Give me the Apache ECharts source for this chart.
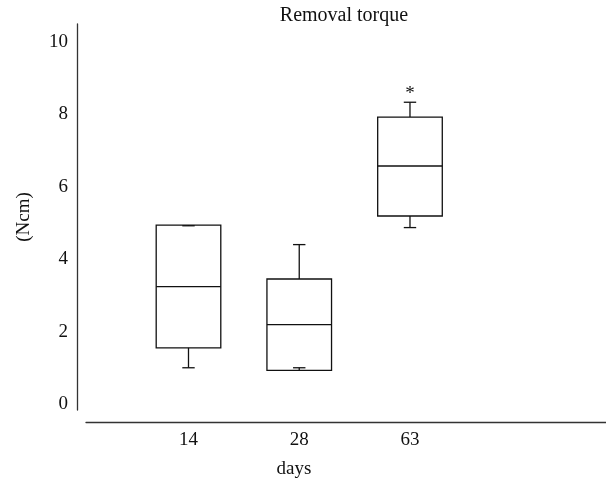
<!DOCTYPE html>
<html><head><meta charset="utf-8">
<script src="https://cdn.jsdelivr.net/npm/echarts@6/dist/echarts.min.js"></script>
<style>html,body{margin:0;padding:0;background:#fff}#c{width:606px;height:483px}</style>
</head><body><div id="c"></div>
<script>
// ---- data ----
const days = ['14', '28', '63'];
const minVals = [1.00, 1.00, 4.87];
const q1Vals = [1.55, 0.93, 5.19];
const medianVals = [3.24, 2.19, 6.57];
const q3Vals = [4.94, 3.45, 7.92];
const maxVals = [4.92, 4.40, 8.33];
const marks = ['', '', '*'];
const yTicks = [0, 2, 4, 6, 8, 10];
const xTicks = [1, 2, 3];

const boxData = days.map((d, i) => [i + 1, minVals[i], q1Vals[i], medianVals[i], q3Vals[i], maxVals[i]]);

const FONT = 'Liberation Serif';
const TXT = '#111';
const chart = echarts.init(document.getElementById('c'), null, {renderer: 'canvas'});
chart.setOption({
  animation: false,
  backgroundColor: '#fff',
  title: [
    {text: 'Removal torque', left: 344, top: 6, padding: 0, textAlign: 'center',
     textStyle: {fontFamily: FONT, fontSize: 20, fontWeight: 'normal', color: TXT}},
    {text: 'days', left: 294, top: 460, padding: 0, textAlign: 'center',
     textStyle: {fontFamily: FONT, fontSize: 19, fontWeight: 'normal', color: TXT}}
  ],
  grid: {left: 86, right: 0, top: 24, bottom: 73},
  xAxis: {
    type: 'value', min: 0.0745, max: 4.77, offset: 12,
    axisLine: {show: true, onZero: false, lineStyle: {color: '#333', width: 1.3}},
    axisTick: {show: false}, splitLine: {show: false},
    axisLabel: {customValues: xTicks, formatter: v => days[Math.round(v) - 1], margin: 9,
                fontFamily: FONT, fontSize: 19, color: TXT}
  },
  yAxis: {
    type: 'value', min: -0.166, max: 10.49, offset: 9,
    name: '(Ncm)', nameLocation: 'middle', nameRotate: 90, nameGap: 43,
    nameTextStyle: {fontFamily: FONT, fontSize: 19, color: TXT},
    axisLine: {show: true, onZero: false, lineStyle: {color: '#333', width: 1.3}},
    axisTick: {show: false}, splitLine: {show: false},
    axisLabel: {customValues: yTicks, margin: 9, fontFamily: FONT, fontSize: 19, color: TXT}
  },
  series: [{
    type: 'custom',
    data: boxData,
    clip: false,
    renderItem: function (params, api) {
      const x = api.value(0);
      const lo = api.coord([x, api.value(1)]);
      const q1 = api.coord([x, api.value(2)]);
      const md = api.coord([x, api.value(3)]);
      const q3 = api.coord([x, api.value(4)]);
      const hi = api.coord([x, api.value(5)]);
      const bw = 64.6, hw = bw / 2, cw = 6.2;
      const cx = q1[0];
      const ls = {stroke: '#111', lineWidth: 1.3};
      const children = [
        {type: 'rect', shape: {x: cx - hw, y: q3[1], width: bw, height: q1[1] - q3[1]},
         style: {fill: '#fff', stroke: '#111', lineWidth: 1.3}},
        {type: 'line', shape: {x1: cx - hw, y1: md[1], x2: cx + hw, y2: md[1]}, style: ls},
        {type: 'line', shape: {x1: cx, y1: q3[1], x2: cx, y2: hi[1]}, style: ls},
        {type: 'line', shape: {x1: cx - cw, y1: hi[1], x2: cx + cw, y2: hi[1]}, style: ls},
        {type: 'line', shape: {x1: cx, y1: q1[1], x2: cx, y2: lo[1]}, style: ls},
        {type: 'line', shape: {x1: cx - cw, y1: lo[1], x2: cx + cw, y2: lo[1]}, style: ls}
      ];
      const m = marks[params.dataIndex];
      if (m) {
        children.push({type: 'text', style: {text: m, x: cx, y: hi[1] - 8.5, align: 'center',
          verticalAlign: 'middle', fontFamily: FONT, fontSize: 19, fill: TXT}});
      }
      return {type: 'group', children: children};
    }
  }]
});
</script></body></html>
